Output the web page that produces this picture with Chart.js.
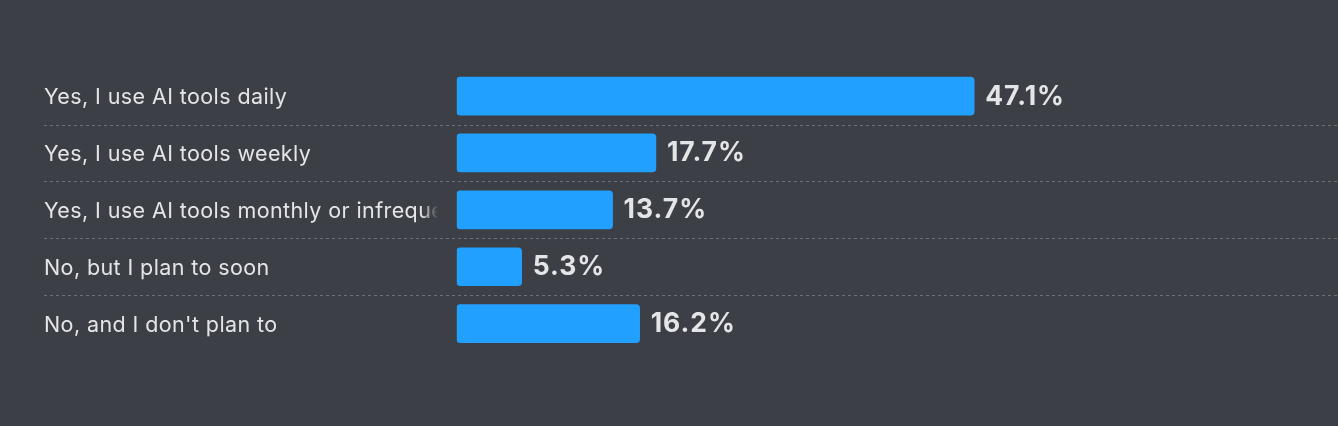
<!DOCTYPE html>
<html>
<head>
<meta charset="utf-8">
<script src="https://cdn.jsdelivr.net/npm/chart.js@4.4.0/dist/chart.umd.min.js"></script>
<style>
  html, body { margin: 0; padding: 0; background: #3d3f46; }
  #wrap { position: relative; width: 1338px; height: 426px; }
</style>
</head>
<body>
<div id="wrap"><canvas id="c"></canvas></div>
<script>
const categories = [
  "Yes, I use AI tools daily",
  "Yes, I use AI tools weekly",
  "Yes, I use AI tools monthly or infrequently",
  "No, but I plan to soon",
  "No, and I don't plan to"
];
const values = [47.1, 17.7, 13.7, 5.3, 16.2];
const formatValue = v => v.toFixed(1) + "%";

const BG = "#3d3f46";
const BAR = "#21a0ff";
const TEXT = "#e4e5e7";
const LABEL_FONT = '21.5px Inter, "Noto Sans", sans-serif';
const VALUE_FONT = 'bold 26.5px Inter, "Noto Sans", sans-serif';
const LABEL_X = 44;
const LABEL_RIGHT = 438;

const bgPlugin = {
  id: "bg",
  beforeDraw(chart) {
    const ctx = chart.ctx;
    ctx.save();
    ctx.fillStyle = BG;
    ctx.fillRect(0, 0, chart.width, chart.height);
    ctx.restore();
  }
};

const rowsPlugin = {
  id: "rows",
  afterDraw(chart) {
    const ctx = chart.ctx;
    const y = chart.scales.y;
    const n = categories.length;
    ctx.save();
    // separators
    ctx.strokeStyle = "rgba(255,255,255,0.26)";
    ctx.lineWidth = 1;
    ctx.setLineDash([3, 3]);
    for (let i = 0; i < n - 1; i++) {
      const yy = Math.round((y.getPixelForValue(i) + y.getPixelForValue(i + 1)) / 2) + 0.5;
      ctx.beginPath();
      ctx.moveTo(LABEL_X, yy);
      ctx.lineTo(chart.width, yy);
      ctx.stroke();
    }
    ctx.setLineDash([]);
    // category labels
    ctx.font = LABEL_FONT;
    if ("letterSpacing" in ctx) ctx.letterSpacing = "0.4px";
    ctx.textBaseline = "middle";
    ctx.textAlign = "left";
    for (let i = 0; i < n; i++) {
      const cy = y.getPixelForValue(i);
      ctx.save();
      ctx.beginPath();
      ctx.rect(LABEL_X - 2, cy - 20, LABEL_RIGHT - LABEL_X + 2, 40);
      ctx.clip();
      ctx.fillStyle = TEXT;
      ctx.fillText(categories[i], LABEL_X, cy + 1.5);
      if (ctx.measureText(categories[i]).width > LABEL_RIGHT - LABEL_X) {
        const g = ctx.createLinearGradient(LABEL_RIGHT - 16, 0, LABEL_RIGHT, 0);
        g.addColorStop(0, "rgba(61,63,70,0)");
        g.addColorStop(1, "rgba(61,63,70,1)");
        ctx.fillStyle = g;
        ctx.fillRect(LABEL_RIGHT - 16, cy - 20, 16, 40);
      }
      ctx.restore();
    }
    // value labels
    const meta = chart.getDatasetMeta(0);
    ctx.font = VALUE_FONT;
    if ("letterSpacing" in ctx) ctx.letterSpacing = "1px";
    ctx.fillStyle = TEXT;
    ctx.textAlign = "left";
    ctx.textBaseline = "middle";
    meta.data.forEach((bar, i) => {
      ctx.fillText(formatValue(values[i]), bar.x + 11, bar.y + 0.5);
    });
    ctx.restore();
  }
};

new Chart(document.getElementById("c"), {
  type: "bar",
  data: {
    labels: categories,
    datasets: [{
      data: values,
      base: -0.7,
      backgroundColor: BAR,
      borderRadius: 4,
      borderSkipped: false,
      barThickness: 38
    }]
  },
  options: {
    indexAxis: "y",
    responsive: true,
    maintainAspectRatio: false,
    animation: false,
    layout: { padding: { top: 67.6, bottom: 73.9, left: 456.7, right: 38 } },
    scales: {
      x: { display: false, min: -0.7, max: 77.2 },
      y: { display: false, offset: true }
    },
    plugins: {
      legend: { display: false },
      tooltip: { enabled: false }
    }
  },
  plugins: [bgPlugin, rowsPlugin]
});
</script>
</body>
</html>
